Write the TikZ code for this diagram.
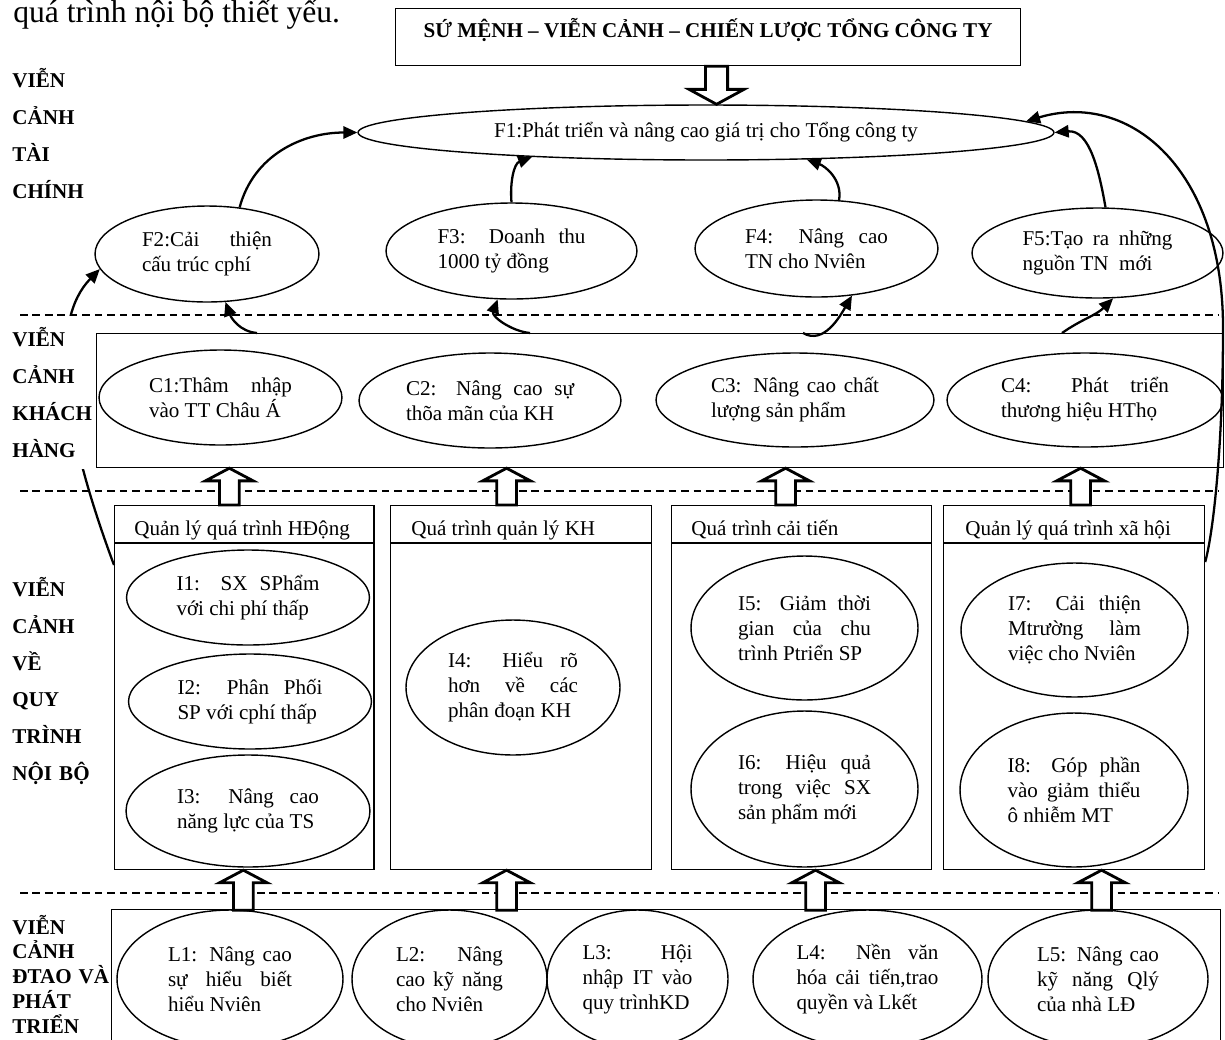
\documentclass[tikz,border=0pt]{standalone}
\usepackage{fontspec}
\setmainfont{Liberation Serif}
\usepackage{tikz}
\usetikzlibrary{calc,arrows.meta,shapes.geometric}

\newcommand{\hollowup}[2]{% 空心箭头 向上
  \draw[hollow] let \p1=#1, \p2=#2 in
    (\x1-5.6pt,\y1) -- (\x1-5.6pt,\y2-7.2pt) -- (\x1-13.6pt,\y2-7.2pt) -- (\x1,\y2)
    -- (\x1+13.6pt,\y2-7.2pt) -- (\x1+5.6pt,\y2-7.2pt) -- (\x1+5.6pt,\y1) -- cycle;}
\newcommand{\hollowdown}[2]{% 空心箭头 向下
  \draw[hollow] let \p1=#1, \p2=#2 in
    (\x1-6.3pt,\y1) -- (\x1-6.3pt,\y2+8.5pt) -- (\x1-15.6pt,\y2+8.5pt) -- (\x1,\y2)
    -- (\x1+15.6pt,\y2+8.5pt) -- (\x1+6.3pt,\y2+8.5pt) -- (\x1+6.3pt,\y1) -- cycle;}

\begin{document}
\begin{tikzpicture}[x=0.02cm,y=-0.02cm,
  panel/.style={draw,line width=0.7pt,inner sep=0pt,anchor=north west},
  oval/.style={ellipse,draw,line width=0.8pt,inner sep=0pt,align=justify,font=\fontsize{12}{14.2}\selectfont},
  flow/.style={line width=1.3pt,-{Triangle[length=8pt,width=7pt]}},
  divider/.style={line width=0.7pt,dash pattern=on 4.3pt off 2.8pt},
  hollow/.style={draw,fill=white,line width=1.6pt},
  sidelbl/.style={anchor=west,inner sep=0pt,text width=1.9cm,align=left,font=\bfseries\fontsize{12}{21}\selectfont},
  hdr/.style={anchor=base west,inner sep=0pt,font=\fontsize{12}{14}\selectfont}]
  \useasboundingbox (0,0) rectangle (1225,1039);
  \clip (0,0) rectangle (1225,1039); %只显示页面区域

  \node[anchor=base west,inner sep=0pt,font=\fontsize{18}{20}\selectfont] (intro) at (13,22) {quá trình nội bộ thiết yếu.};

  \draw[divider] (20,315) -- (1218,315);
  \draw[divider] (20,491) -- (1218,491);
  \draw[divider] (20,893) -- (1218,893);

  \node[panel,minimum width=12.5cm,minimum height=1.14cm,text height=16.5pt,text depth=15.9pt,
    font=\bfseries\fontsize{12}{14}\selectfont] (mission) at (395,8) {SỨ MỆNH – VIỄN CẢNH – CHIẾN LƯỢC TỔNG CÔNG TY};
  \node[panel,minimum width=22.54cm,minimum height=2.68cm] (cbox) at (96,333) {};
  \node[panel,minimum width=5.19cm,minimum height=7.28cm] (ibox1) at (114,505) {};
  \node[panel,minimum width=5.22cm,minimum height=7.28cm] (ibox2) at (390,505) {};
  \node[panel,minimum width=5.2cm,minimum height=7.28cm] (ibox3) at (671,505) {};
  \node[panel,minimum width=5.22cm,minimum height=7.28cm] (ibox4) at (943,505) {};
  \node[panel,minimum width=22.18cm,minimum height=3.2cm] (lbox) at (111,909) {};

  \draw[line width=0.7pt] ($(ibox1.north west)+(0,38)$) -- ($(ibox1.north east)+(0,38)$);
  \draw[line width=0.7pt] ($(ibox2.north west)+(0,38)$) -- ($(ibox2.north east)+(0,38)$);
  \draw[line width=0.7pt] ($(ibox3.north west)+(0,38)$) -- ($(ibox3.north east)+(0,38)$);
  \draw[line width=0.7pt] ($(ibox4.north west)+(0,38)$) -- ($(ibox4.north east)+(0,38)$);
  \node[hdr] (h1) at ($(ibox1.north west)+(20,30)$) {Quản lý quá trình HĐộng};
  \node[hdr] (h2) at ($(ibox2.north west)+(21,30)$) {Quá trình quản lý KH};
  \node[hdr] (h3) at ($(ibox3.north west)+(20,30)$) {Quá trình cải tiến};
  \node[hdr] (h4) at ($(ibox4.north west)+(22,30)$) {Quản lý quá trình xã hội};

  % 财务
  \node[oval,align=center,minimum width=13.92cm,minimum height=1.1cm] (F1) at (706,132.5) {F1:Phát triển và nâng cao giá trị cho Tổng công ty};
  \node[oval,minimum width=4.48cm,minimum height=1.92cm,text width=2.6cm] (F2) at (207,254) {F2:Cải thiện\linebreak cấu trúc cphí};
  \node[oval,minimum width=5.02cm,minimum height=1.92cm,text width=2.96cm] (F3) at (511.5,251) {F3: Doanh thu\linebreak 1000 tỷ đồng};
  \node[oval,minimum width=4.86cm,minimum height=1.94cm,text width=2.86cm] (F4) at (816.5,248.5) {F4: Nâng cao\linebreak TN cho Nviên};
  \node[oval,minimum width=5.02cm,minimum height=1.8cm,text width=3cm] (F5) at (1097.5,253) {F5:Tạo ra những\linebreak nguồn TN\ \ mới};

  % 客户
  \node[oval,minimum width=4.86cm,minimum height=1.9cm,text width=2.86cm] (C1) at (220.5,397.5) {C1:Thâm nhập\linebreak vào TT Châu Á};
  \node[oval,minimum width=5.24cm,minimum height=1.9cm,text width=3.36cm] (C2) at (490,400.5) {C2: Nâng cao sự\linebreak thõa mãn của KH};
  \node[oval,minimum width=5.56cm,minimum height=1.88cm,text width=3.36cm] (C3) at (795,400) {C3: Nâng cao chất\linebreak lượng sản phẩm};
  \node[oval,minimum width=5.52cm,minimum height=1.88cm,text width=3.36cm] (C4) at (1085,400) {C4: Phát triển\linebreak thương hiệu HThọ};

  % 内部流程
  \node[oval,minimum width=4.86cm,minimum height=1.9cm,text width=2.86cm] (I1) at (248,597.5) {I1: SX SPhẩm\linebreak với chi phí thấp};
  \node[oval,minimum width=4.86cm,minimum height=1.9cm,text width=2.9cm] (I2) at (250,701.5) {I2: Phân Phối\linebreak SP với cphí thấp};
  \node[oval,minimum width=4.88cm,minimum height=2.24cm,text width=2.84cm] (I3) at (248,811) {I3: Nâng cao\linebreak năng lực của TS};
  \node[oval,minimum width=4.28cm,minimum height=2.7cm,text width=2.6cm] (I4) at (513,687.5) {I4: Hiểu rõ\linebreak hơn về các\linebreak phân đoạn KH};
  \node[oval,minimum width=4.54cm,minimum height=2.88cm,text width=2.66cm] (I5) at (804.5,628) {I5: Giảm thời\linebreak gian của chu\linebreak trình Ptriển SP};
  \node[oval,minimum width=4.54cm,minimum height=3.12cm,text width=2.66cm] (I6) at (804.5,789) {I6: Hiệu quả\linebreak trong việc SX\linebreak sản phẩm mới};
  \node[oval,minimum width=4.54cm,minimum height=2.68cm,text width=2.66cm] (I7) at (1074.5,630) {I7: Cải thiện\linebreak Mtrường làm\linebreak việc cho Nviên};
  \node[oval,minimum width=4.56cm,minimum height=3.08cm,text width=2.66cm] (I8) at (1074,790) {I8: Góp phần\linebreak vào giảm thiểu\linebreak ô nhiễm MT};

  % 学习与发展
  \begin{scope}[every node/.append style={font=\fontsize{12}{13.4}\selectfont}]
    \node[oval,minimum width=4.52cm,minimum height=2.76cm,text width=2.48cm] (L1) at (230,979) {L1: Nâng cao\linebreak sự hiểu biết\linebreak hiểu Nviên};
    \node[oval,minimum width=3.9cm,minimum height=2.76cm,text width=2.14cm] (L2) at (449.5,979) {L2: Nâng\linebreak cao kỹ năng\linebreak cho Nviên};
    \node[oval,minimum width=3.62cm,minimum height=2.76cm,text width=2.2cm] (L3) at (637.5,979) {L3: Hội\linebreak nhập IT vào\linebreak quy trìnhKD};
    \node[oval,minimum width=4.58cm,minimum height=2.76cm,text width=2.84cm] (L4) at (867.5,979) {L4: Nền văn\linebreak hóa cải tiến,trao\linebreak quyền và Lkết};
    \node[oval,minimum width=4.4cm,minimum height=2.76cm,text width=2.44cm] (L5) at (1098,979) {L5: Nâng cao\linebreak kỹ năng Qlý\linebreak của nhà LĐ};
  \end{scope}

  % 左侧长箭头 (被标签遮住一段)
  \draw[flow] ($(ibox1.north west)+(0,60)$) .. controls (60,420) and (50,320) .. (F2.188);

  \node[sidelbl] (lblfin) at (12,133.5) {VIỄN\\CẢNH\\TÀI\\CHÍNH};
  \node[sidelbl,fill=white,text width=1.64cm,inner ysep=6.8pt] (lblcust) at (12,392.5) {VIỄN\\CẢNH\\KHÁCH\\HÀNG};
  \node[sidelbl] (lblproc) at (12,681) {VIỄN\\CẢNH\\VỀ\\QUY\\TRÌNH\\NỘI BỘ};
  \node[sidelbl,text width=2.1cm,font=\bfseries\fontsize{12}{14.1}\selectfont] (lbllearn) at (12,974) {VIỄN\\CẢNH\\ĐTAO VÀ\\PHÁT\\TRIỂN};

  % 财务层内部箭头
  \draw[flow] (F2.55) to[out=75,in=180] (F1.west);
  \draw[flow] (F3.north) to[out=95,in=200] (F1.188);
  \draw[flow] (F4.65) to[out=80,in=-20] (F1.345);
  \draw[flow] (F5.80) to[out=100,in=5] (F1.east);
  \coordinate (rbend) at (1223,330);
  \draw[flow] ($(ibox4.north east)+(0,57)$) .. controls (1214,530) and (1223,440) .. (rbend)
    .. controls (1224,170) and (1130,90) .. (F1.2);

  % 客户 -> 财务
  \coordinate (c1out) at (257,333);
  \coordinate (c2out) at (530,333);
  \coordinate (c3out) at (803,333);
  \coordinate (c4out) at (1062,333);
  \draw[flow] (c1out) to[out=175,in=-70] (F2.-69);
  \draw[flow] (c2out) to[out=175,in=-110] (F3.-106);
  \draw[flow] (c3out) to[out=-30,in=-120] (F4.-53);
  \draw[flow] (c4out) to[out=35,in=-135] (F5.-71);

  \hollowdown{($(mission.south)+(8.5,0)$)}{(F1.north)}
  \hollowup{($(ibox1.north)+(-15,0)$)}{(cbox.south)}
  \hollowup{($(ibox2.north)+(-14.5,0)$)}{(cbox.south)}
  \hollowup{($(ibox3.north)+(-16,0)$)}{(cbox.south)}
  \hollowup{($(ibox4.north)+(6.5,0)$)}{(cbox.south)}
  \hollowup{($(ibox1.south)+(-1,40)$)}{(ibox1.south)}
  \hollowup{($(ibox2.south)+(-14.5,40)$)}{(ibox2.south)}
  \hollowup{($(ibox3.south)+(14,40)$)}{(ibox3.south)}
  \hollowup{($(ibox4.south)+(27.5,40)$)}{(ibox4.south)}
\end{tikzpicture}
\end{document}
